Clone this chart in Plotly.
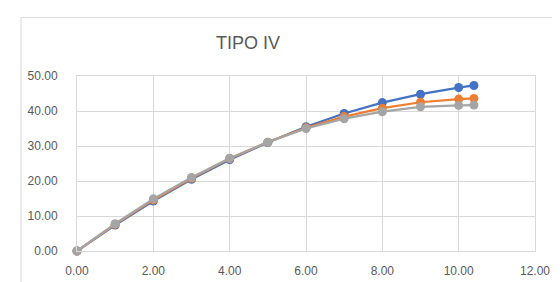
import plotly.graph_objects as go

x_vals = [0, 1, 2, 3, 4, 5, 6, 7, 8, 9, 10, 10.4]
serie_azul = [0, 7.4, 14.3, 20.5, 26.1, 31.0, 35.5, 39.3, 42.4, 44.8, 46.7, 47.3]
serie_naranja = [0, 7.6, 14.6, 20.8, 26.4, 31.1, 35.2, 38.4, 40.8, 42.5, 43.4, 43.6]
serie_gris = [0, 7.8, 14.9, 21.0, 26.5, 31.1, 35.0, 37.8, 39.8, 41.2, 41.6, 41.7]
x_ticks = [0, 2, 4, 6, 8, 10, 12]
y_ticks = [0, 10, 20, 30, 40, 50]
titulo = "TIPO IV"

colors = ["#4472C4", "#ED7D31", "#A5A5A5"]
fig = go.Figure()
for ys, c in zip([serie_azul, serie_naranja, serie_gris], colors):
    fig.add_trace(go.Scatter(
        x=x_vals, y=ys, mode="lines+markers",
        line=dict(color=c, width=2.25),
        marker=dict(color=c, size=9),
        cliponaxis=False, showlegend=False,
    ))

W, H = 560, 282
L, R, T, B = 69, 33, 68, 37
pw, ph = W - L - R, H - T - B

fig.update_layout(
    width=W, height=H,
    margin=dict(l=L, r=R, t=T, b=B),
    paper_bgcolor="white", plot_bgcolor="white",
    font=dict(family="Liberation Sans, Arial, sans-serif", color="#595959", size=12),
    title=dict(text=titulo, x=240 / W, xanchor="center", y=1 - 35 / H, yanchor="middle",
               xref="container", yref="container", font=dict(size=18, color="#595959")),
    xaxis=dict(range=[0, 12], tickvals=x_ticks, tickformat=".2f",
               showgrid=True, gridcolor="#D9D9D9", gridwidth=1,
               zeroline=False, showline=True, linecolor="#D9D9D9", mirror=True,
               ticks="", ticklabelstandoff=9),
    yaxis=dict(range=[0, 50], tickvals=y_ticks, tickformat=".2f",
               showgrid=True, gridcolor="#D9D9D9", gridwidth=1,
               zeroline=False, showline=True, linecolor="#D9D9D9", mirror=True,
               ticks="", ticklabelstandoff=16),
)

# chart frame (Excel chart area border)
fig.add_shape(type="rect", xref="paper", yref="paper",
              x0=(13 - L) / pw, x1=(W + 10 - L) / pw,
              y0=(H - B - (H + 10)) / ph, y1=(H - B - 9) / ph,
              line=dict(color="#D9D9D9", width=1), layer="below")

fig.write_html("out.html")
